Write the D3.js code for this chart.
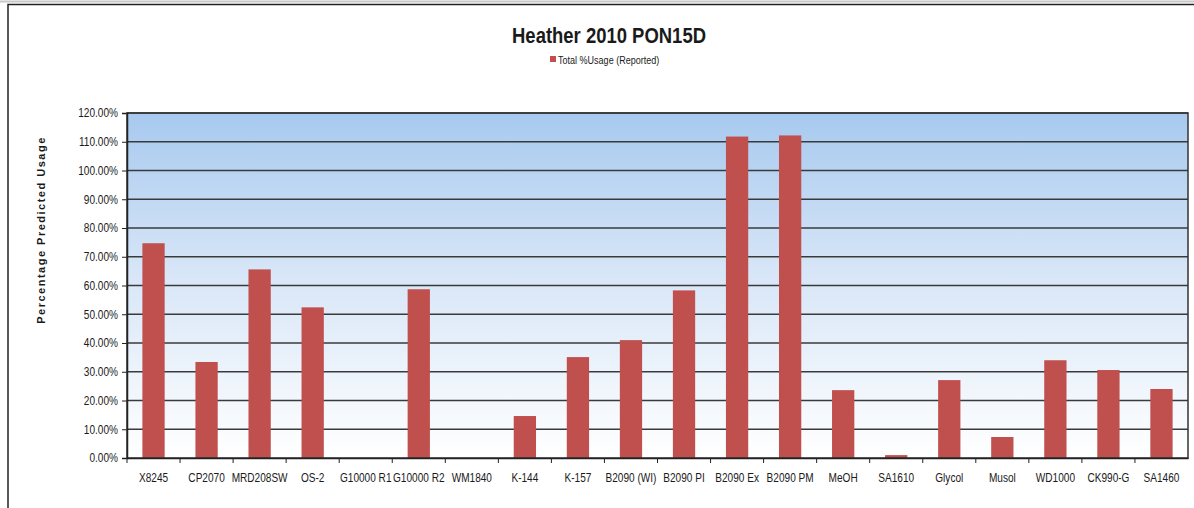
<!DOCTYPE html>
<html>
<head>
<meta charset="utf-8">
<script src="https://cdn.jsdelivr.net/npm/d3@7"></script>
<style>
  body { margin: 0; background: #fff; }
  text { font-family: "Liberation Sans", Arial, sans-serif; fill: #1a1a1a; }
</style>
</head>
<body>
<div id="chart"></div>
<script>
// values (percent)
const categories = ["X8245", "CP2070", "MRD208SW", "OS-2", "G10000 R1", "G10000 R2", "WM1840", "K-144", "K-157",
  "B2090 (WI)", "B2090 PI", "B2090 Ex", "B2090 PM", "MeOH", "SA1610", "Glycol", "Musol", "WD1000", "CK990-G", "SA1460"];
const usage = [74.7, 33.4, 65.6, 52.4, 0, 58.7, 0, 14.6, 35.1,
  41.0, 58.3, 111.8, 112.2, 23.6, 1.0, 27.1, 7.3, 34.0, 30.6, 24.0];
const yTicks = [0, 10, 20, 30, 40, 50, 60, 70, 80, 90, 100, 110, 120];
const seriesName = "Total %Usage (Reported)";

const W = 1194, H = 508;
const margin = {left: 127, top: 113, right: 6, bottom: 50};
const narrow = 0.84; // the original uses a condensed face, squeeze horizontally

const svg = d3.select("#chart").append("svg")
    .attr("width", W)
    .attr("height", H);

// outer chart frame
svg.append("line").attr("x1", 0).attr("x2", W).attr("y1", 1.5).attr("y2", 1.5)
    .attr("stroke", "#c8c8c8").attr("stroke-width", 2);
svg.append("rect")
    .attr("x", 8).attr("y", 4.5)
    .attr("width", W).attr("height", H)
    .attr("fill", "none").attr("stroke", "#222").attr("stroke-width", 1.5);

const x = d3.scaleBand()
    .domain(categories)
    .range([margin.left, W - margin.right]);

const y = d3.scaleLinear()
    .domain([0, 120])
    .range([H - margin.bottom, margin.top]);

// background gradient of the plot area
const defs = svg.append("defs");
const grad = defs.append("linearGradient")
    .attr("id", "bg").attr("x1", 0).attr("y1", 0).attr("x2", 0).attr("y2", 1);
grad.append("stop").attr("offset", "0%").attr("stop-color", "#a7c9ef");
grad.append("stop").attr("offset", "45%").attr("stop-color", "#d6e5f7");
grad.append("stop").attr("offset", "100%").attr("stop-color", "#ffffff");

svg.append("rect")
    .attr("x", margin.left).attr("y", margin.top)
    .attr("width", W - margin.right - margin.left)
    .attr("height", y(0) - margin.top)
    .attr("fill", "url(#bg)");

// gridlines
svg.append("g")
    .selectAll("line")
    .data(yTicks.slice(1))
    .join("line")
    .attr("x1", margin.left).attr("x2", W - margin.right)
    .attr("y1", d => y(d)).attr("y2", d => y(d))
    .attr("stroke", "#3a3a3a").attr("stroke-width", 1.3);

// bars
const bw = x.bandwidth();
svg.append("g")
    .selectAll("rect")
    .data(categories)
    .join("rect")
    .attr("x", (d) => x(d) + bw * 0.29)
    .attr("width", bw * 0.42)
    .attr("y", (d, i) => y(usage[i]))
    .attr("height", (d, i) => y(0) - y(usage[i]))
    .attr("fill", "#c0504d");

// plot frame
svg.append("rect")
    .attr("x", margin.left).attr("y", margin.top)
    .attr("width", W - margin.right - margin.left)
    .attr("height", y(0) - margin.top)
    .attr("fill", "none").attr("stroke", "#333").attr("stroke-width", 1.5);

// y axis
const yAxis = svg.append("g")
    .attr("transform", `translate(${margin.left},0)`)
    .call(d3.axisLeft(y).tickValues(yTicks).tickSize(5).tickPadding(4)
        .tickFormat(d => d.toFixed(2) + "%"));
yAxis.select(".domain").attr("stroke", "#222").attr("stroke-width", 1.5);
yAxis.selectAll(".tick line").attr("stroke", "#222");
yAxis.selectAll("text")
    .style("font-size", "12px")
    .attr("fill", "#1a1a1a")
    .attr("x", -9 / narrow)
    .attr("transform", `scale(${narrow},1)`);

// x axis (ticks on category boundaries)
const xAxis = svg.append("g")
    .attr("transform", `translate(0,${y(0)})`)
    .call(d3.axisBottom(x).tickSize(0).tickPadding(15));
xAxis.select(".domain").attr("stroke", "#222").attr("stroke-width", 1.5);
xAxis.selectAll("text")
    .style("font-size", "12px")
    .attr("fill", "#1a1a1a")
    .attr("transform", `scale(${narrow},1)`);
xAxis.selectAll(".bound")
    .data(categories)
    .join("line")
    .attr("class", "bound")
    .attr("x1", d => x(d)).attr("x2", d => x(d))
    .attr("y1", 0).attr("y2", 5)
    .attr("stroke", "#222");

// y axis title
svg.append("text")
    .attr("transform", `translate(45,230) rotate(-90)`)
    .attr("text-anchor", "middle")
    .style("font-weight", "bold")
    .style("font-size", "11px")
    .style("letter-spacing", "1.5px")
    .text("Percentage Predicted Usage");

// title
svg.append("text")
    .attr("transform", `translate(609,43) scale(${narrow},1)`)
    .attr("text-anchor", "middle")
    .style("font-weight", "bold")
    .style("font-size", "22px")
    .text("Heather 2010 PON15D");

// legend
svg.append("rect")
    .attr("x", 550).attr("y", 56)
    .attr("width", 6).attr("height", 6)
    .attr("fill", "#c0504d");
svg.append("text")
    .attr("transform", `translate(558,63.5) scale(0.86,1)`)
    .style("font-size", "10.5px")
    .text(seriesName);
</script>
</body>
</html>
